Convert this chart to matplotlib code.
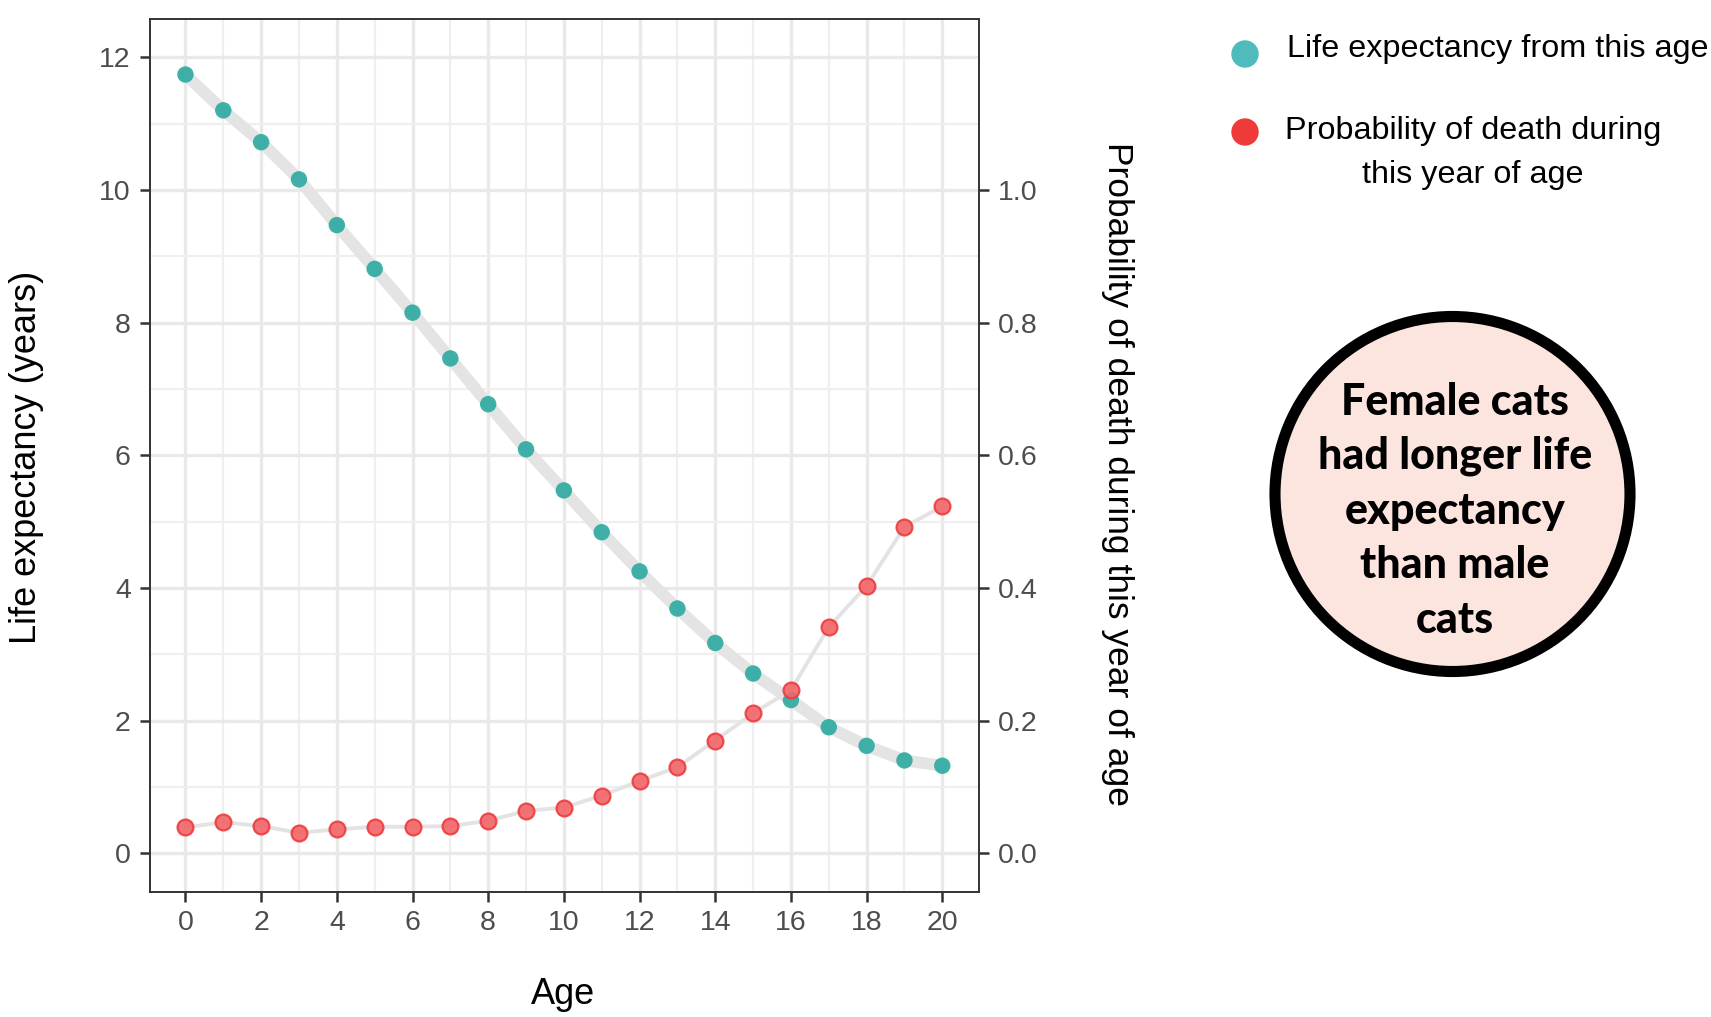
import numpy as np
import matplotlib.pyplot as plt
from matplotlib.patches import Circle
from matplotlib.ticker import MultipleLocator

# data
age = list(range(21))
life_exp = [11.74, 11.20, 10.72, 10.16, 9.47, 8.81, 8.15, 7.46, 6.77, 6.09, 5.47,
            4.84, 4.25, 3.69, 3.17, 2.71, 2.31, 1.90, 1.62, 1.40, 1.32]
p_death = [0.039, 0.047, 0.041, 0.031, 0.036, 0.040, 0.040, 0.041, 0.049, 0.064, 0.069,
           0.087, 0.109, 0.130, 0.170, 0.211, 0.246, 0.341, 0.403, 0.492, 0.523]

left_ticks = [0, 2, 4, 6, 8, 10, 12]
right_ticks = [0.0, 0.2, 0.4, 0.6, 0.8, 1.0]
x_ticks = list(range(0, 21, 2))

W, H = 1711, 1017
plt.rcParams['font.family'] = ['Liberation Sans', 'DejaVu Sans']

fig = plt.figure(figsize=(W / 100, H / 100), dpi=100)
ax = fig.add_axes([149.5 / W, 1 - 891.5 / H, (979 - 149.5) / W, (891.5 - 18.6) / H])

teal = '#2BAAA0'
red_edge = '#EE3B3F'
red_face = '#F26467'
tick_col = '#4D4D4D'
frame_col = '#333333'

ax.set_xlim(-0.95, 20.97)
ax.set_ylim(-0.576, 12.583)
ax.xaxis.set_major_locator(MultipleLocator(2))
ax.xaxis.set_minor_locator(MultipleLocator(1))
ax.yaxis.set_minor_locator(MultipleLocator(1))
ax.set_xticks(x_ticks)
ax.set_yticks(left_ticks)
ax.grid(which='major', color='#E9E9E9', linewidth=2.4, zorder=0)
ax.grid(which='minor', color='#EFEFEF', linewidth=1.6, zorder=0)
ax.set_axisbelow(True)
ax.tick_params(which='minor', length=0)
ax.tick_params(which='major', length=7.5, width=1.8, color=frame_col,
               labelsize=20.5, labelcolor=tick_col, pad=6)
for sp in ax.spines.values():
    sp.set_color(frame_col)
    sp.set_linewidth(1.4)

# life expectancy: thick grey line + teal points
ax.plot(age, life_exp, color='#E4E4E4', linewidth=8.5, solid_capstyle='round', zorder=2)
ax.scatter(age, life_exp, s=140, color=teal, alpha=0.9, edgecolors='none', zorder=3)

# probability of death on secondary axis
ax2 = ax.twinx()
ax2.set_ylim(-0.0576, 1.2583)
ax2.set_yticks(right_ticks)
ax2.set_yticklabels([f'{v:.1f}' for v in right_ticks])
ax2.tick_params(length=7.5, width=1.8, color=frame_col, labelsize=20.5,
                labelcolor=tick_col, pad=6)
for sp in ax2.spines.values():
    sp.set_visible(False)
ax2.plot(age, p_death, color='#E3E3E3', linewidth=2.8, zorder=2)
ax2.scatter(age, p_death, s=130, facecolor=red_face, edgecolor=red_edge,
            linewidth=1.6, alpha=0.9, zorder=3)

# overlay in pixel coordinates for titles, legend and badge
ov = fig.add_axes([0, 0, 1, 1])
ov.set_xlim(0, W)
ov.set_ylim(H, 0)
ov.axis('off')
ov.patch.set_alpha(0)

ov.text(27, 457, 'Life expectancy (years)', rotation=90, ha='center', va='center',
        fontsize=26, color='black')
ov.text(1118, 474, 'Probability of death during this year of age', rotation=-90,
        ha='center', va='center', fontsize=25.5, color='black')
ov.text(563, 995, 'Age', ha='center', va='center', fontsize=26, color='black')

# legend
ov.add_patch(Circle((1245, 54), 13, color='#4FBBBD', zorder=3))
ov.add_patch(Circle((1245, 132), 13, color='#EE3A38', zorder=3))
ov.text(1287, 49, 'Life expectancy from this age', ha='left', va='center',
        fontsize=23.3, color='black')
ov.text(1473, 131, 'Probability of death during', ha='center', va='center',
        fontsize=23.3, color='black')
ov.text(1473, 175, 'this year of age', ha='center', va='center',
        fontsize=23.3, color='black')

# badge
ov.add_patch(Circle((1452.5, 494), 177.5, facecolor='#FCE4DF', edgecolor='black',
                    linewidth=8, zorder=2))
badge_lines = ['Female cats', 'had longer life', 'expectancy', 'than male', 'cats']
badge_y = [401.6, 456, 510.7, 565, 620]
for line, yy in zip(badge_lines, badge_y):
    ov.text(1455, yy, line, ha='center', va='center', fontsize=31,
            fontweight='black', family=['Lato', 'DejaVu Sans'], color='black', zorder=4)

fig.savefig('out.png', dpi=100)
